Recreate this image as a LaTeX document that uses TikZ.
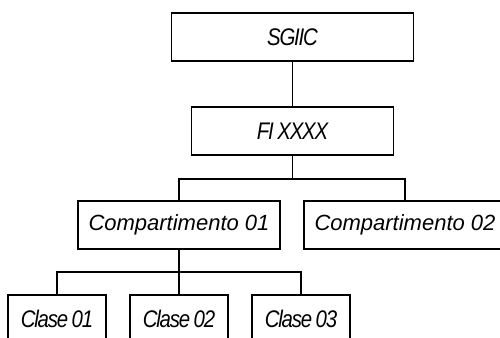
\documentclass[tikz,border=0pt]{standalone}
\usepackage{fontspec}
\setmainfont{Liberation Sans}
\newfontfamily\condfont{Liberation Sans}[FakeStretch=0.85,LetterSpace=-5]
\newcommand\mytightfont{\condfont\fontsize{18}{21}\selectfont\itshape\spaceskip=0.15em\relax}
\newcommand\mynormalfont{\fontsize{16.5}{19}\selectfont\itshape}
\begin{document}
\begin{tikzpicture}[x=0.75pt,y=-0.75pt,
  box/.style={draw=black,line width=1.2pt,inner sep=0pt,minimum height=36pt,
    font=\mynormalfont},
  tight/.style={font=\mytightfont},
  widebox/.style={box,minimum width=151.5pt},
  smallbox/.style={box,tight,minimum width=73.5pt},
  link/.style={draw=black,line width=1.2pt}]
\useasboundingbox (0,0) rectangle (500,338);
\node[box,tight,minimum width=181.5pt] (sg) at (292.5,37) {SGIIC};
\node[widebox,tight] (fi) at (292.5,131) {FI XXXX};
\node[widebox] (c1) at (179,225) {Compartimento 01};
\node[widebox] (c2) at (405,225) {Compartimento 02};
\node[smallbox] (k1) at (57,319) {Clase 01};
\node[smallbox] (k2) at (179,319) {Clase 02};
\node[smallbox] (k3) at (301,319) {Clase 03};
\coordinate (b1) at (292.5,179);
\coordinate (b2) at (179,272);
\draw[link] (sg.south) -- (fi.north);
\draw[link] (fi.south) -- (b1);
\draw[link] (c1.north) -- (c1.north |- b1) -- (c2.north |- b1) -- (c2.north);
\draw[link] (c1.south) -- (b2);
\draw[link] (k1.north) -- (k1.north |- b2) -- (k3.north |- b2) -- (k3.north);
\draw[link] (k2.north) -- (k2.north |- b2);
\end{tikzpicture}
\end{document}
